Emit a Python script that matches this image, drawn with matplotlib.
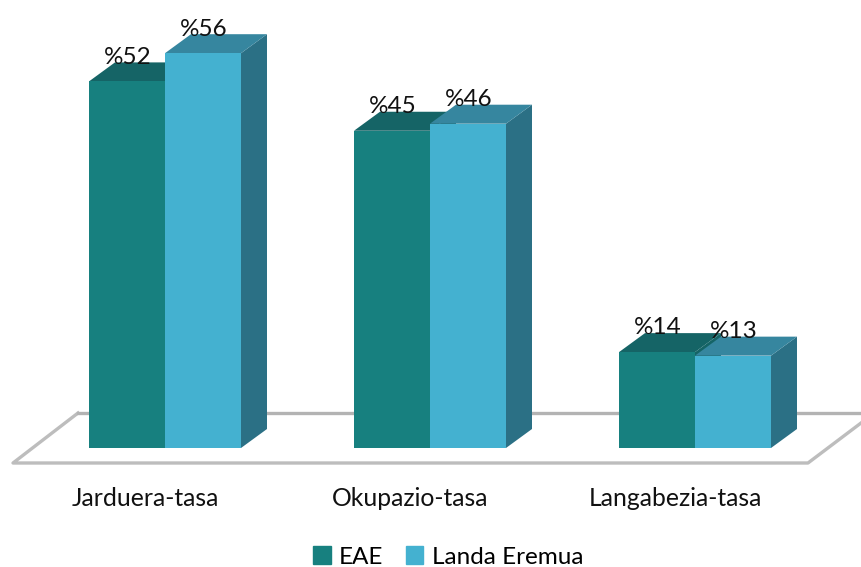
import matplotlib
matplotlib.use('Agg')
import matplotlib.pyplot as plt
from matplotlib.patches import Polygon, Patch

categories = ['Jarduera-tasa', 'Okupazio-tasa', 'Langabezia-tasa']
series_names = ['EAE', 'Landa Eremua']
eae = [52, 45, 13.6]
landa = [56, 46, 13.1]
eae_labels = ['%52', '%45', '%14']
landa_labels = ['%56', '%46', '%13']

# px scales of the picture
px_x = 265.0
px_y = 7.05
x0 = 165.0
y0 = 448.0
bw = 76 / px_x
dx = 26 / px_x
dy = 19 / px_y

plt.rcParams['font.family'] = ['Lato', 'DejaVu Sans']

fig = plt.figure(figsize=(8.61, 5.67), dpi=100)
ax = fig.add_axes([0, 0, 1, 1])
ax.set_xlim(-x0 / px_x, (861 - x0) / px_x)
ax.set_ylim((y0 - 567) / px_y, y0 / px_y)
ax.axis('off')


def X(p):
    return (p - x0) / px_x


def Y(p):
    return (y0 - p) / px_y


# floor
ax.plot([X(78), X(13), X(808), X(861)], [Y(413), Y(463), Y(463), Y(423)], color='#bdbdbd', lw=2.4, zorder=1)
ax.plot([X(78), X(861)], [Y(413), Y(413)], color='#b3b3b3', lw=2.4, zorder=1)


def box(x, h, front, top, side, z):
    # side first, then top and the front face
    ax.add_patch(Polygon([(x + bw, 0), (x + bw + dx, dy), (x + bw + dx, h + dy), (x + bw, h)],
                         fc=side, ec='none', zorder=z))
    ax.add_patch(Polygon([(x, h), (x + dx, h + dy), (x + bw + dx, h + dy), (x + bw, h)],
                         fc=top, ec='none', zorder=z))
    ax.bar(x, h, width=bw, align='edge', color=front, linewidth=0, zorder=z + 0.1)


for i in range(len(categories)):
    box(i - bw, eae[i], '#17807f', '#156466', '#156466', 2)
    box(i, landa[i], '#44b1d0', '#36869f', '#2b7085', 3)
    ax.text(i - bw / 2 + 0.003, eae[i] + 2.5, eae_labels[i], ha='center', va='baseline', fontsize=17.5, color='#111111', zorder=5)
    ax.text(i + bw / 2 + 0.003, landa[i] + 2.5, landa_labels[i], ha='center', va='baseline', fontsize=17.5, color='#111111', zorder=5)
    ax.text(i - 0.0755, Y(499), categories[i], ha='center', va='center', fontsize=17.8, color='#111111')

handles = [Patch(color='#17807f', label=series_names[0]), Patch(color='#44b1d0', label=series_names[1])]
ax.legend(handles=handles, ncol=2, frameon=False, fontsize=17.5, loc='center', bbox_to_anchor=(448.5 / 861, 1 - 557 / 567),
          handlelength=0.7, handleheight=0.7, handletextpad=0.35, columnspacing=0.95, borderpad=0)

fig.savefig('out.png', dpi=100)
